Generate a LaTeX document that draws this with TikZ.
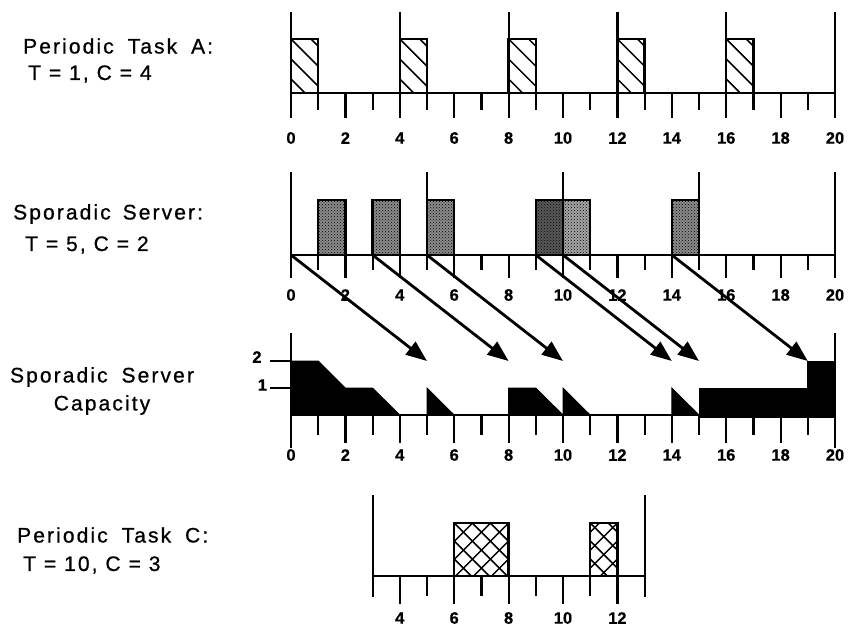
\documentclass[tikz,border=0pt]{standalone}
\usepackage{fontspec}
\setmainfont{Liberation Sans}
\newfontfamily\lblfont[LetterSpace=10,FakeBold=0.8]{Liberation Sans}
\newfontfamily\numfont[FakeBold=0.6]{Liberation Sans}
\usetikzlibrary{arrows.meta,patterns}
\begin{document}
\begin{tikzpicture}[x=1pt,y=-1pt,
  axisline/.style={line width=2.8pt},
  tickline/.style={line width=2.2pt},
  boxline/.style={line width=2.4pt},
  hatchline/.style={line width=1.5pt},
  tnum/.style={font=\numfont\bfseries\fontsize{16.5}{16.5}\selectfont, inner sep=0pt},
  lbl/.style={font=\lblfont\fontsize{21}{25}\selectfont, anchor=west, inner sep=0pt},
  clbl/.style={font=\lblfont\fontsize{21}{25}\selectfont, anchor=center, inner sep=0pt},
  arr/.style={line width=2.8pt, -{Triangle[length=21pt,width=16pt]}},
  capfill/.style={fill=black, draw=black, line width=0.8pt}
]
\useasboundingbox (0,0) rectangle (849,629);

% ---------- labels ----------
\node[lbl] (la1) at (23,46) {Periodic\hspace{6pt} Task\hspace{6pt} A:};
\node[lbl] (la2) at (28,74) {T = 1, C = 4};
\node[lbl] (lb1) at (13,214) {Sporadic\hspace{4pt} Server:};
\node[lbl] (lb2) at (25,245) {T = 5, C = 2};
\node[clbl] (lc1) at (102,377) {Sporadic\hspace{6pt} Server};
\node[clbl] (lc2) at (102,405) {Capacity};
\node[lbl] (ld1) at (17,535) {Periodic\hspace{6pt} Task\hspace{6pt} C:};
\node[lbl] (ld2) at (23,565) {T = 10, C = 3};

\begin{scope}[xshift=291pt, x=27.2pt]
% ================= Periodic Task A =================
\foreach \t in {0,4,...,16}{
  \begin{scope}
    \clip (\t,39) rectangle (\t+1,93);
    \foreach \k in {-3,...,3}{
      \draw[hatchline] (\t,39+\k*20) -- ++(3,81.6);
    }
  \end{scope}
  \draw[boxline] (\t,93) -- (\t,39) -- (\t+1,39) -- (\t+1,93);
}
\draw[axisline] (0,93) -- (20,93);
\foreach \t in {0,4,...,20}{ \draw[tickline] (\t,12) -- (\t,93); }
\foreach \t in {0,...,20}{
  \pgfmathsetmacro\bot{mod(\t,2)==0 ? 118 : 110}
  \draw[tickline] (\t,93) -- (\t,\bot);
}
\foreach \t in {0,2,...,20}{ \node[tnum] (na\t) at (\t,138) {\t}; }

% ================= Sporadic Server =================
\foreach \a/\sh in {1/45,3/45,5/45,9/65,10/35,14/45}{
  \fill[black!\sh] (\a,200) rectangle (\a+1,255);
  \fill[pattern=crosshatch dots, pattern color=black] (\a,200) rectangle (\a+1,255);
  \draw[boxline] (\a,255) -- (\a,200) -- (\a+1,200) -- (\a+1,255);
}
\draw[axisline] (0,255) -- (20,255);
\foreach \t in {0,5,...,20}{ \draw[tickline] (\t,172) -- (\t,255); }
\foreach \t in {0,...,20}{
  \pgfmathsetmacro\bot{mod(\t,2)==0 ? 278 : 270}
  \draw[tickline] (\t,255) -- (\t,\bot);
}
\foreach \t in {0,2,...,20}{ \node[tnum] (nb\t) at (\t,295) {\t}; }

% arrows from server to capacity
\foreach \s in {0,3,5,9,10,14}{
  \coordinate (bs\s) at (\s,255);
  \pgfmathtruncatemacro\e{\s+5}
  \coordinate (ce\s) at (\e,361);
}
\foreach \s in {0,3,5,9,10,14}{ \draw[arr] (bs\s) -- (ce\s); }

% ================= Capacity =================
\fill[capfill] (0,415) -- (0,361) -- (1,361) -- (2,388) -- (3,388) -- (4,415) -- cycle;
\fill[capfill] (5,415) -- (5,388) -- (6,415) -- cycle;
\fill[capfill] (8,415) -- (8,388) -- (9,388) -- (10,415) -- cycle;
\fill[capfill] (10,415) -- (10,388) -- (11,415) -- cycle;
\fill[capfill] (14,415) -- (14,388) -- (15,415) -- cycle;
\fill[capfill] (15,417) -- (15,388) -- (19,388) -- (19,361) -- (20,361) -- (20,417) -- cycle;
\draw[axisline] (0,415) -- (20,415);
\foreach \t in {0,20}{ \draw[tickline] (\t,333) -- (\t,448); }
\foreach \t in {1,...,19}{
  \pgfmathsetmacro\bot{mod(\t,2)==0 ? 443 : 435}
  \draw[tickline] (\t,415) -- (\t,\bot);
}
\draw[tickline] (-0.78,361) -- (0,361);
\draw[tickline] (-0.78,388) -- (0,388);
\node[tnum] (cl2) at (-1.25,357) {2};
\node[tnum] (cl1) at (-1.05,385) {1};
\foreach \t in {0,2,...,20}{ \node[tnum] (nc\t) at (\t,455) {\t}; }

% ================= Periodic Task C =================
\foreach \a/\b in {6/8,11/12}{
  \begin{scope}
    \clip (\a,523) rectangle (\b,576);
    \foreach \k in {-4,...,4}{
      \draw[hatchline] (\a,523+\k*18) -- ++(3,81.6);
      \draw[hatchline] (\b,523+\k*18) -- ++(-3,81.6);
    }
  \end{scope}
  \draw[boxline] (\a,576) -- (\a,523) -- (\b,523) -- (\b,576);
}
\draw[axisline] (3,576) -- (13,576);
\foreach \t in {3,13}{ \draw[tickline] (\t,495) -- (\t,597); }
\foreach \t in {4,...,12}{
  \pgfmathsetmacro\bot{mod(\t,2)==0 ? 604 : 596}
  \draw[tickline] (\t,576) -- (\t,\bot);
}
\foreach \t in {4,6,...,12}{ \node[tnum] (nd\t) at (\t,618) {\t}; }
\end{scope}
\end{tikzpicture}
\end{document}
